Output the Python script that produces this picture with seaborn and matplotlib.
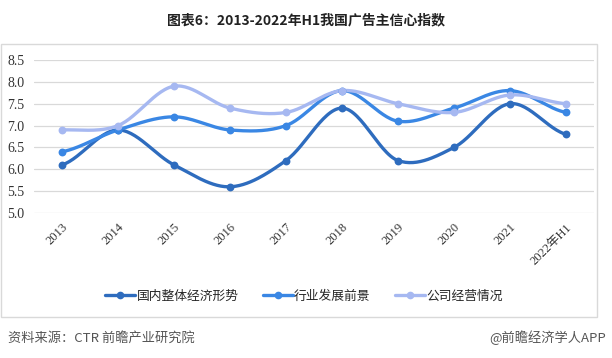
import numpy as np
import pandas as pd
import matplotlib
matplotlib.use('Agg')
import matplotlib.pyplot as plt
import seaborn as sns
from matplotlib.patches import Rectangle
from matplotlib.lines import Line2D

years = ['2013', '2014', '2015', '2016', '2017', '2018', '2019', '2020', '2021', '2022年H1']
economy = [6.1, 6.9, 6.1, 5.6, 6.2, 7.4, 6.2, 6.5, 7.5, 6.8]
industry = [6.4, 6.9, 7.2, 6.9, 7.0, 7.8, 7.1, 7.4, 7.8, 7.3]
company = [6.9, 7.0, 7.9, 7.4, 7.3, 7.8, 7.5, 7.3, 7.7, 7.5]
series_names = ['国内整体经济形势', '行业发展前景', '公司经营情况']
colors = ['#2E6CBE', '#3A87E4', '#A6B8F1']


def smooth_curve(y, steps=30):
	# catmull-rom style smoothing, similar to excel's smoothed lines
	y = np.asarray(y, dtype=float)
	n = len(y)
	pad = np.concatenate([[y[0]], y, [y[-1]]])
	xs, ys = [], []
	for i in range(n - 1):
		p0, p1, p2, p3 = pad[i], pad[i + 1], pad[i + 2], pad[i + 3]
		t = np.linspace(0, 1, steps, endpoint=False)
		seg = 0.5 * ((2 * p1) + (-p0 + p2) * t + (2 * p0 - 5 * p1 + 4 * p2 - p3) * t ** 2
					 + (-p0 + 3 * p1 - 3 * p2 + p3) * t ** 3)
		xs.append(i + t)
		ys.append(seg)
	xs.append([n - 1])
	ys.append([y[-1]])
	return np.concatenate(xs), np.concatenate(ys)


sns.set_style('white')
plt.rcParams['font.family'] = ['Noto Sans CJK SC', 'DejaVu Sans']

fig = plt.figure(figsize=(6.12, 3.58), dpi=100)
ax = fig.add_axes([34 / 612, 1 - 213 / 358, 560 / 612, 153 / 358])

df = pd.DataFrame({'year': years, 'idx': range(len(years))})
for name, vals, c in zip(series_names, [economy, industry, company], colors):
	sx, sy = smooth_curve(vals)
	sns.lineplot(x=sx, y=sy, ax=ax, color=c, linewidth=2.4, zorder=3)
	sns.scatterplot(x=df['idx'], y=vals, ax=ax, color=c, s=32, edgecolor=c, linewidth=0, zorder=4)

ax.set_xlim(-0.5, len(years) - 0.5)
ax.set_ylim(5.0, 8.5)
ax.set_yticks(np.arange(5.0, 8.51, 0.5))
ax.set_yticklabels([f'{v:.1f}' for v in np.arange(5.0, 8.51, 0.5)], family='Liberation Serif', fontsize=10, color='#333333')
ax.set_xticks(range(len(years)))
ax.set_xticklabels(years, rotation=45, ha='right', rotation_mode='anchor',
				   family=['Liberation Serif', 'Noto Sans CJK SC'], fontsize=9, color='#333333')
ax.grid(axis='y', color='#D9D9D9', linewidth=0.9)
ax.set_axisbelow(True)
for spine in ax.spines.values():
	spine.set_visible(False)
ax.tick_params(axis='both', which='both', length=0)
ax.tick_params(axis='y', pad=7)
ax.tick_params(axis='x', pad=6)
ax.set_xlabel('')
ax.set_ylabel('')

handles = [Line2D([0], [0], color=c, linewidth=2.4, marker='o', markersize=4.5) for c in colors]
fig.legend(handles, series_names, loc='center', bbox_to_anchor=(304 / 612, 1 - 296 / 358),
		   ncol=3, frameon=False, fontsize=9.2, handlelength=2.35, handletextpad=0.1, columnspacing=1.9)

fig.patches.append(Rectangle((1 / 612, 1 - 317 / 358), 596 / 612, 273 / 358, transform=fig.transFigure,
							 fill=False, edgecolor='#D9D9D9', linewidth=1))

fig.text(306 / 612, 1 - 20 / 358, '图表6：2013-2022年H1我国广告主信心指数', ha='center', va='center',
		 fontsize=10, fontweight='bold', color='#222222')
fig.text(8 / 612, 1 - 338 / 358, '资料来源：CTR 前瞻产业研究院', ha='left', va='center', fontsize=9.5, color='#555555')
fig.text(606 / 612, 1 - 338 / 358, '@前瞻经济学人APP', ha='right', va='center', fontsize=9.5, color='#555555')

fig.savefig('out.png', dpi=100)
